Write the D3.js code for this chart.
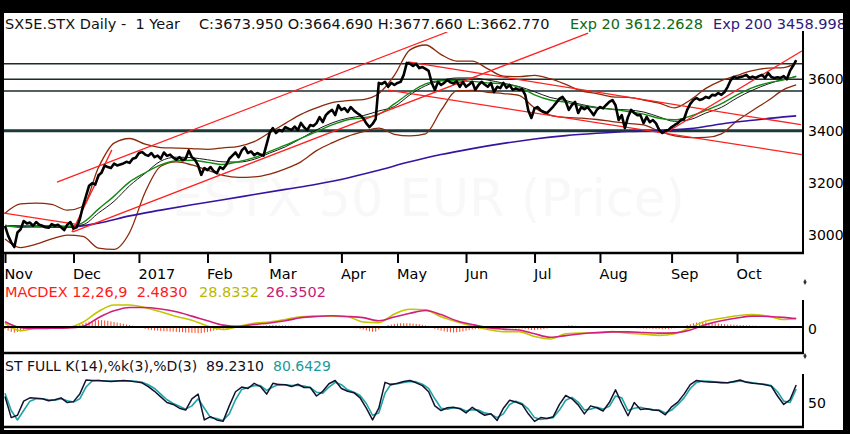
<!DOCTYPE html>
<html><head><meta charset="utf-8">
<script src="https://cdn.jsdelivr.net/npm/d3@7"></script>
<style>html,body{margin:0;padding:0;background:#000;}svg{display:block;font-family:"DejaVu Sans",Verdana,sans-serif;}</style>
</head><body><svg id="c" width="850" height="434"></svg>
<script>
// ---------- data ----------
const monthLabels = ["Nov","Dec","2017","Feb","Mar","Apr","May","Jun","Jul","Aug","Sep","Oct"];
const monthStart = [0,22,43,65,85,108,126,148,170,191,214,235];
const priceTicks = [3000,3200,3400,3600];
const levelLines = [3660,3600,3555];
const supportLine = 3402;

const closePrice = [
 3035,2998,2972,2954,3010,3022,3054,3045,3048,3036,3050,3040,3036,3030,3028,3042,3036,3040,3030,3019,3040,3050,
 3025,3030,3060,3110,3150,3190,3200,3195,3230,3240,3268,3262,3258,3275,3268,3272,3276,3282,3278,3294,3298,
 3316,3320,3310,3305,3316,3300,3306,3294,3318,3305,3310,3298,3290,3300,3288,3294,3326,3300,3290,3268,3232,3258,
 3250,3262,3246,3238,3262,3255,3270,3294,3306,3318,3300,3326,3338,3316,3322,3308,3316,3310,3306,3350,
 3395,3412,3393,3405,3400,3416,3410,3405,3418,3404,3432,3415,3404,3424,3420,3431,3454,3435,3462,3474,3482,3462,3500,
 3482,3489,3474,3493,3480,3470,3462,3450,3430,3416,3428,3447,3586,3582,3590,3571,3586,3578,
 3586,3590,3617,3663,3660,3651,3659,3643,3647,3640,3632,3586,3559,3590,3578,3586,3597,3588,3584,3592,3571,3590,
 3571,3580,3590,3559,3578,3590,3580,3571,3586,3551,3571,3566,3586,3567,3578,3559,3565,3559,3562,3540,3480,3451,
 3488,3493,3480,3474,3470,3482,3495,3510,3525,3532,3515,3482,3501,3513,3470,3493,3485,3493,3478,3462,3482,
 3493,3488,3501,3513,3520,3500,3443,3462,3412,3455,3482,3470,3462,3462,3431,3455,3435,3443,3430,3405,3393,3402,3405,
 3416,3424,3431,3443,3447,3482,3505,3520,3528,3520,3524,3532,3528,3540,3538,3547,3540,3551,3571,3597,3609,
 3605,3609,3612,3617,3605,3610,3605,3612,3617,3605,3624,3609,3605,3608,3605,3612,3600,3632,3652,3673.95
];

const bandIdx = [0,5,10,15,20,25,30,35,40,45,50,55,60,65,70,75,80,85,90,95,100,105,110,115,120,125,130,135,140,145,150,155,160,165,170,175,180,185,190,195,200,205,210,215,220,225,230,235,240,245,250,254];
const bbUpper = [3084,3120,3123,3118,3096,3110,3260,3354,3372,3350,3337,3335,3333,3330,3336,3342,3360,3395,3430,3465,3490,3510,3518,3522,3545,3615,3713,3732,3695,3670,3670,3640,3612,3610,3615,3602,3580,3555,3545,3532,3530,3520,3508,3490,3520,3565,3595,3615,3633,3643,3645,3663];
const bbLower = [2985,2952,2965,2985,3000,2995,2950,2945,3010,3165,3265,3282,3270,3250,3230,3222,3224,3235,3255,3282,3325,3355,3380,3398,3412,3388,3382,3390,3480,3555,3557,3550,3545,3538,3490,3462,3453,3450,3445,3437,3430,3424,3400,3382,3375,3376,3390,3440,3480,3518,3560,3578];
const sma20 = [3036,3035,3036,3036,3034,3040,3085,3130,3190,3238,3285,3300,3298,3290,3282,3281,3292,3316,3340,3372,3405,3432,3450,3460,3478,3495,3540,3575,3595,3605,3605,3597,3585,3572,3552,3530,3518,3503,3492,3485,3482,3474,3455,3438,3445,3470,3492,3528,3558,3582,3600,3610];
const ema20 = [3038,3030,3032,3034,3032,3048,3100,3150,3205,3240,3270,3286,3288,3280,3272,3283,3298,3322,3346,3372,3398,3424,3444,3452,3465,3505,3548,3582,3594,3594,3592,3586,3582,3570,3540,3520,3512,3498,3490,3484,3476,3466,3450,3444,3458,3480,3506,3540,3568,3586,3598,3612.26];

const ema200Idx = [0,10,20,30,40,50,60,70,80,90,100,110,120,130,140,150,160,170,180,190,200,210,220,230,240,250,254];
const ema200 = [3036,3032,3030,3046,3074,3096,3117,3136,3156,3176,3196,3220,3250,3282,3310,3333,3353,3370,3383,3392,3399,3402,3410,3428,3442,3455,3459];

const macdLine = [12,-12,-4,-3,-2,15,50,71,71,62,49,34,22,3,-8,2,12,16,24,33,35,35,33,16,14,42,57,55,33,17,3,-8,-15,-15,-31,-39,-22,-20,-20,-15,-20,-23,-27,-22,-2,19,28,36,40,35,24,28.83];
const macdSignal = [17,-2,-5,-4,-3,2,30,52,63,63,58,49,35,20,6,2,8,13,20,30,34,36,34,30,20,32,44,53,40,20,8,-2,-7,-10,-22,-33,-28,-22,-18,-16,-16,-18,-20,-19,-10,8,20,29,35,34,31,26.35];
const macdHist = [
 -6,-12,-16,-18,-16,-14,-10,-8,-6,-5,-4,-4,-3,-3,-3,-2,-2,-2,-2,-3,-2,-2,
 -1,2,6,10,14,17,19,21,22,22,21,20,18,16,14,12,10,8,6,4,2,
 0,-3,-6,-8,-10,-11,-12,-13,-14,-14,-15,-15,-16,-17,-17,-18,-18,-19,-19,-20,-20,-18,
 -16,-14,-12,-10,-8,-6,-4,-2,0,2,3,4,4,4,4,4,4,4,4,5,
 6,6,6,5,5,5,4,4,4,4,3,3,3,2,2,2,2,2,1,1,1,0,0,
 -1,-1,-2,-2,-3,-4,-6,-8,-11,-14,-16,-15,-8,-2,3,6,8,10,
 11,12,12,12,12,11,10,9,7,5,2,-2,-6,-9,-12,-14,-16,-17,-18,-17,-16,-14,
 -12,-10,-8,-7,-6,-6,-6,-6,-6,-5,-5,-4,-4,-4,-4,-4,-5,-5,-5,-6,-8,-10,
 -10,-9,-8,-7,-5,-3,-1,1,2,3,4,5,5,4,3,2,1,0,-1,-1,-2,
 -2,-2,-1,0,1,2,2,1,-1,-2,-3,-3,-4,-4,-5,-5,-5,-6,-6,-6,-7,-7,-6,
 -5,-4,-2,0,3,6,9,12,14,15,16,15,14,13,12,11,10,9,8,8,7,
 7,6,6,5,5,4,4,3,3,2,2,1,1,0,-1,-2,-3,-4,-1,2.48
];

const stochK = [
 65,20,25,55,62,61,60,56,58,62, 52,54,70,100,99,99,98,97,98,99,
 98,96,94,86,76,64,52,48,40,36, 60,70,15,22,15,12,45,75,85,82,
 93,86,70,93,90,90,86,91,84,84, 66,76,92,99,82,76,73,62,40,15,
 40,95,90,93,97,99,94,88,75,45, 35,41,42,39,30,42,33,25,28,14,
 40,57,53,48,28,12,20,18,22,48, 67,60,47,28,45,41,34,52,79,50,
 24,52,37,39,36,35,26,43,53,70, 90,99,97,96,95,94,94,97,100,95,
 93,92,90,87,66,48,58,89.23
];
const stochD = [
 72,35,15,35,55,60,60,58,57,60, 56,53,60,85,98,99,98,98,98,98,
 98,97,95,90,82,70,58,50,44,38, 45,60,40,20,18,14,28,58,80,84,
 88,88,78,85,91,90,88,89,87,84, 74,72,85,95,90,79,74,67,50,25,
 30,72,92,92,95,97,96,91,82,60, 40,38,41,40,34,37,36,30,27,20,
 28,48,55,50,38,20,16,18,20,36, 57,63,53,36,38,42,38,44,66,62,
 35,40,42,39,37,36,30,36,48,62, 82,95,98,97,96,95,94,96,98,96,
 94,92,91,88,75,55,52,80.64
];
const stochIdx = d3.range(0, 255, 2);

// trend lines: [[dayIndex, price],[dayIndex, price]]
const trendLines = [
 [[-0.6,3085],[22.5,3042]],
 [[16.7,3204],[142,3782]],
 [[21.8,3012],[187.2,3778]],
 [[21.5,3012],[34.3,3328]],
 [[129.4,3667],[255.5,3425]],
 [[123,3558],[255.8,3310]],
 [[212,3393],[255.8,3709]]
];

// ---------- drawing ----------
const svg = d3.select("#c");
const FS = 14.5;
svg.append("rect").attr("width",850).attr("height",434).attr("fill","#000");
svg.append("rect").attr("x",4).attr("y",13).attr("width",839).attr("height",417).attr("fill","#fff");

const L = 4, R = 803;
const x = d3.scaleLinear().domain([0,254]).range([5,796.2]);
const yP = d3.scaleLinear().domain([2931,3782]).range([253,32]);
const yM = d3.scaleLinear().domain([-84,87]).range([353,300]);
const yS = d3.scaleLinear().domain([0,100]).range([427,380]);

const defs = svg.append("defs");
function clip(id,y0,y1){defs.append("clipPath").attr("id",id).append("rect").attr("x",L).attr("y",y0).attr("width",R-L).attr("height",y1-y0);}
clip("cp",32,253); clip("cm",298,353); clip("cs",372,427);

// ----- price panel -----
const gp = svg.append("g").attr("clip-path","url(#cp)");
gp.append("text").attr("x",685).attr("y",216).attr("text-anchor","end")
  .attr("font-size",51).attr("fill","#f8f8f8").text("ESTX 50 EUR (Price)");

gp.selectAll("line.lvl").data(levelLines).join("line").attr("class","lvl")
  .attr("x1",L).attr("x2",R).attr("y1",d=>yP(d)).attr("y2",d=>yP(d))
  .attr("stroke","#1c2b2b").attr("stroke-width",1.4);
gp.append("line").attr("x1",L).attr("x2",R).attr("y1",yP(supportLine)).attr("y2",yP(supportLine))
  .attr("stroke","#1d3a3a").attr("stroke-width",3);

function seriesPath(g, idx, vals, yScale, color, width, curve){
  const ln = d3.line().x((d,k)=>x(idx[k])).y(d=>yScale(d)).curve(curve||d3.curveMonotoneX);
  g.append("path").attr("d",ln(vals)).attr("fill","none").attr("stroke",color)
   .attr("stroke-width",width).attr("stroke-linejoin","round");
}
seriesPath(gp, bandIdx, bbUpper, yP, "#8a2a0c", 1.3);
seriesPath(gp, bandIdx, bbLower, yP, "#8a2a0c", 1.3);
seriesPath(gp, ema200Idx, ema200, yP, "#3414a0", 1.6);
seriesPath(gp, bandIdx, sma20, yP, "#1a1a1a", 1.0);
seriesPath(gp, bandIdx, ema20, yP, "#138a13", 1.4);

gp.selectAll("line.tr").data(trendLines).join("line").attr("class","tr")
  .attr("x1",d=>x(d[0][0])).attr("y1",d=>yP(d[0][1]))
  .attr("x2",d=>x(d[1][0])).attr("y2",d=>yP(d[1][1]))
  .attr("stroke","#ff2020").attr("stroke-width",1.3);

const dayIdx = d3.range(closePrice.length);
seriesPath(gp, dayIdx, closePrice, yP, "#000", 2.6, d3.curveLinear);

// frame lines of price panel
svg.append("line").attr("x1",L).attr("x2",R+1).attr("y1",253).attr("y2",253).attr("stroke","#000").attr("stroke-width",2.5);
svg.append("line").attr("x1",R).attr("x2",R).attr("y1",31).attr("y2",254).attr("stroke","#000").attr("stroke-width",2);

// x axis
const xa = svg.append("g").attr("transform","translate(0,253)")
  .call(d3.axisBottom(x).tickValues(monthStart).tickFormat((d,i)=>monthLabels[i]).tickSize(10));
xa.select(".domain").remove();
xa.selectAll(".tick line").attr("stroke","#000").attr("stroke-width",2);
xa.selectAll(".tick text").attr("text-anchor","start").attr("x",-1).attr("y",26).attr("dy",null)
  .attr("font-size",FS).attr("font-family","DejaVu Sans").attr("fill","#000");

// y axis (price)
const ya = svg.append("g").attr("transform",`translate(${R},0)`)
  .call(d3.axisRight(yP).tickValues(priceTicks).tickSize(0).tickPadding(5).tickFormat(d3.format("d")));
ya.select(".domain").remove();
ya.selectAll("text").attr("font-size",14).attr("font-family","DejaVu Sans").attr("fill","#000");

// labels
function label(txt, xx, yy, color, fs){
  svg.append("text").attr("x",xx).attr("y",yy).attr("font-size",fs||FS).attr("fill",color)
    .style("white-space","pre").text(txt);
}
label("SX5E.STX Daily -  1 Year", 5, 29, "#111");
label("C:3673.950 O:3664.690 H:3677.660 L:3662.770", 199, 29, "#111");
label("Exp 20 3612.2628", 570, 29, "#0c6a12");
label("Exp 200 3458.998", 713, 29, "#2c1a7e");

// ----- MACD panel -----
label("MACDEX 12,26,9  2.4830", 5, 297, "#ff1a1a");
label("28.8332", 199, 297, "#b9b900");
label("26.3502", 266, 297, "#cc1a78");
const gm = svg.append("g").attr("clip-path","url(#cm)");
gm.selectAll("line.h").data(macdHist).join("line").attr("class","h")
  .attr("x1",(d,i)=>x(i)).attr("x2",(d,i)=>x(i)).attr("y1",yM(0)).attr("y2",d=>yM(d))
  .attr("stroke","#ff4422").attr("stroke-width",1);
svg.append("line").attr("x1",L).attr("x2",R).attr("y1",yM(0)).attr("y2",yM(0)).attr("stroke","#000").attr("stroke-width",2);
seriesPath(gm, bandIdx, macdLine, yM, "#c4c400", 1.6);
seriesPath(gm, bandIdx, macdSignal, yM, "#d0207c", 1.6);
svg.append("line").attr("x1",L).attr("x2",R+1).attr("y1",353).attr("y2",353).attr("stroke","#000").attr("stroke-width",2.5);
svg.append("line").attr("x1",R).attr("x2",R).attr("y1",300).attr("y2",354).attr("stroke","#000").attr("stroke-width",2);
const ma = svg.append("g").attr("transform",`translate(${R},0)`)
  .call(d3.axisRight(yM).tickValues([0]).tickSize(0).tickPadding(5));
ma.select(".domain").remove();
ma.selectAll("text").attr("font-size",14).attr("font-family","DejaVu Sans").attr("fill","#000").attr("dy","0.45em");

// ----- Stochastic panel -----
label("ST FULL K(14),%k(3),%D(3)  89.2310", 5, 371, "#111122", 14);
label("80.6429", 273, 371, "#1a9a9a", 14);
const gs = svg.append("g").attr("clip-path","url(#cs)");
seriesPath(gs, stochIdx, stochD, yS, "#1fa3a3", 1.6, d3.curveLinear);
seriesPath(gs, stochIdx, stochK, yS, "#121230", 1.5, d3.curveLinear);
svg.append("line").attr("x1",L).attr("x2",R+1).attr("y1",427).attr("y2",427).attr("stroke","#000").attr("stroke-width",2.5);
svg.append("line").attr("x1",R).attr("x2",R).attr("y1",374).attr("y2",428).attr("stroke","#000").attr("stroke-width",2);
const sa = svg.append("g").attr("transform",`translate(${R},0)`)
  .call(d3.axisRight(yS).tickValues([50]).tickSize(0).tickPadding(5));
sa.select(".domain").remove();
sa.selectAll("text").attr("font-size",14).attr("font-family","DejaVu Sans").attr("fill","#000");

// small axis-end markers
svg.selectAll("path.mk").data([282,356]).join("path").attr("class","mk")
  .attr("transform",d=>`translate(805,${d})`).attr("d",d3.symbol(d3.symbolDiamond,10)).attr("fill","#333");

// outer black frame on top (clips overflowing title)
svg.append("rect").attr("x",843).attr("y",0).attr("width",7).attr("height",434).attr("fill","#000");
</script></body></html>
